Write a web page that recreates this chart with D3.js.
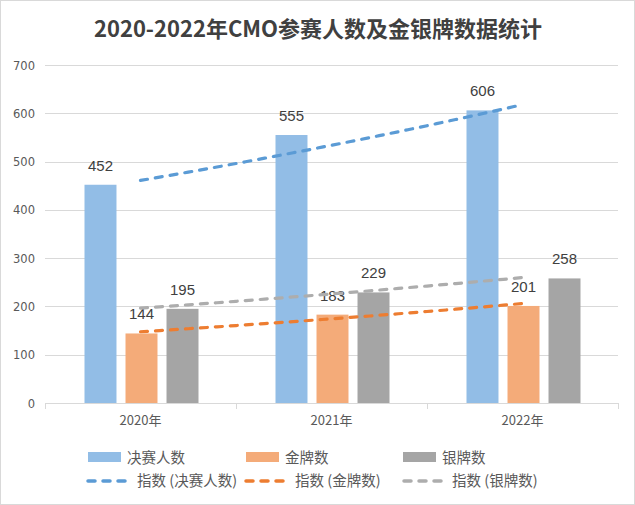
<!DOCTYPE html>
<html><head><meta charset="utf-8">
<script src="https://cdn.jsdelivr.net/npm/d3@7"></script>
<style>
html,body{margin:0;padding:0;background:#fff;}
svg{display:block;font-family:"Noto Sans CJK SC","Noto Sans",sans-serif;}
</style></head>
<body><svg id="c" width="635" height="505"></svg>
<script>
const titleText = "2020-2022年CMO参赛人数及金银牌数据统计";
const categories = ["2020年", "2021年", "2022年"];
const seriesNames = ["决赛人数", "金牌数", "银牌数"];
const finalists = [452, 555, 606];
const gold = [144, 183, 201];
const silver = [195, 229, 258];
const yTicks = [0, 100, 200, 300, 400, 500, 600, 700];
const trendNames = ["指数 (决赛人数)", "指数 (金牌数)", "指数 (银牌数)"];
const barColors = ["#92bde6", "#f4ab79", "#a5a5a5"];
const lineColors = ["#5b9bd5", "#ed7d31", "#adadad"];

(function(){
const seriesValues = [finalists, gold, silver];
const svg = d3.select("#c");

svg.append("rect").attr("x",0.5).attr("y",0.5).attr("width",634).attr("height",504)
  .attr("fill","#fff").attr("stroke","#d9d9d9");

svg.append("text").attr("x",318).attr("y",37).attr("text-anchor","middle")
  .attr("font-size",22).attr("font-weight","bold").attr("fill","#404040")
  .text(titleText);

const pLeft = 45, pRight = 618, pTop = 65, pBottom = 403;
const x0 = d3.scaleBand().domain(categories).range([pLeft, pRight]).padding(0);
const x1 = d3.scaleBand().domain(seriesNames).range([39.5, x0.bandwidth()-37.5]).paddingInner(0.22).paddingOuter(0);
const y = d3.scaleLinear().domain([0, 700]).range([pBottom, pTop]);

svg.append("g").selectAll("line").data(yTicks.filter(d=>d>0)).join("line")
  .attr("x1", pLeft).attr("x2", pRight).attr("y1", d=>Math.round(y(d))+0.5).attr("y2", d=>Math.round(y(d))+0.5)
  .attr("stroke","#d9d9d9").attr("stroke-width",1);

svg.append("g").selectAll("text").data(yTicks).join("text")
  .attr("x", 35).attr("y", d=>y(d)+4.5).attr("text-anchor","end")
  .attr("fill","#595959").attr("font-family","'DejaVu Sans',sans-serif")
  .style("font-size","11.5px")
  .text(d=>d);

seriesNames.forEach((s, si) => {
  const g = svg.append("g");
  g.selectAll("rect").data(categories).join("rect")
    .attr("x", c => x0(c) + x1(s))
    .attr("y", (c,i) => y(seriesValues[si][i]))
    .attr("width", x1.bandwidth())
    .attr("height", (c,i) => y(0) - y(seriesValues[si][i]))
    .attr("fill", barColors[si]);
  g.selectAll("text").data(categories).join("text")
    .attr("x", c => x0(c) + x1(s) + x1.bandwidth()/2)
    .attr("y", (c,i) => y(seriesValues[si][i]) - 14)
    .attr("text-anchor","middle").attr("font-size",15).attr("fill","#404040")
    .attr("font-family","'Liberation Sans',sans-serif")
    .text((c,i) => seriesValues[si][i]);
});

svg.append("line").attr("x1",pLeft).attr("x2",pRight).attr("y1",pBottom+0.5).attr("y2",pBottom+0.5)
  .attr("stroke","#d9d9d9");
const tickXs = categories.map(c => x0(c)).concat([pRight]);
svg.append("g").selectAll("line").data(tickXs).join("line")
  .attr("x1",d=>Math.round(d)+0.5).attr("x2",d=>Math.round(d)+0.5)
  .attr("y1",pBottom).attr("y2",pBottom+6).attr("stroke","#d9d9d9");
svg.append("g").selectAll("text").data(categories).join("text")
  .attr("x", c => x0(c) + x0.bandwidth()/2).attr("y", 425)
  .attr("text-anchor","middle").attr("font-size",13).attr("fill","#595959")
  .text(c => c);

const tScale = d3.scaleLinear().domain([1, 3])
  .range([x0(categories[0]) + x0.bandwidth()/2, x0(categories[2]) + x0.bandwidth()/2]);
seriesValues.forEach((vals, si) => {
  const xs = vals.map((v,i)=>i+1), ls = vals.map(v=>Math.log(v));
  const mx = d3.mean(xs), ml = d3.mean(ls);
  const b = d3.sum(xs.map((xv,i)=>(xv-mx)*(ls[i]-ml))) / d3.sum(xs.map(xv=>(xv-mx)**2));
  const a = ml - b*mx;
  const pts = d3.range(0, 41).map(k => 1 + k*2/40).map(t => [tScale(t), y(Math.exp(a + b*t))]);
  svg.append("path").attr("d", d3.line()(pts)).attr("fill","none")
    .attr("stroke", lineColors[si]).attr("stroke-width",3.2)
    .attr("stroke-dasharray","7,8").attr("stroke-linecap","round");
});

const legBarX = [88, 246, 403];
const legLineX = [88, 246, 404];
const legLineTextX = [137, 295, 452];
seriesNames.forEach((s, si) => {
  svg.append("rect").attr("x", legBarX[si]).attr("y", 452).attr("width", 33).attr("height", 10)
    .attr("fill", barColors[si]);
  svg.append("text").attr("x", legBarX[si] + 39).attr("y", 463).attr("font-size",14.5)
    .attr("fill","#595959").text(s);
  svg.append("line").attr("x1", legLineX[si]).attr("x2", legLineX[si]+38).attr("y1",481).attr("y2",481)
    .attr("stroke", lineColors[si]).attr("stroke-width",3.5).attr("stroke-dasharray","7,8").attr("stroke-linecap","round");
  svg.append("text").attr("x", legLineTextX[si]).attr("y", 486).attr("font-size",14.5)
    .attr("fill","#595959").text(trendNames[si]);
});
})();
</script></body></html>
